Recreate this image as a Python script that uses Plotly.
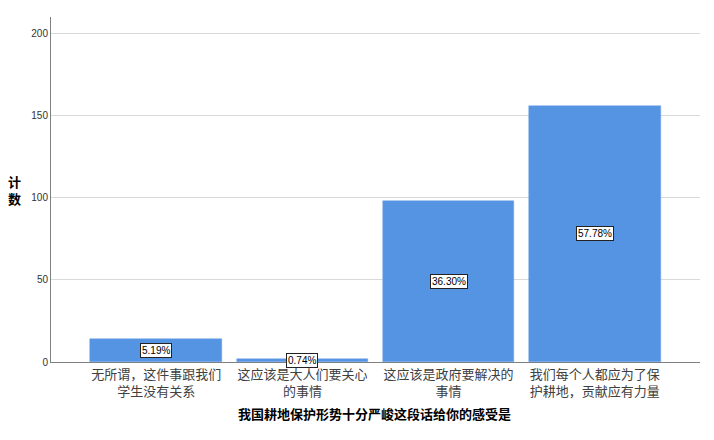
import plotly.graph_objects as go

# categories and counts (n = 270)
categories = ["无所谓，这件事跟我们<br>学生没有关系",
              "这应该是大人们要关心<br>的事情",
              "这应该是政府要解决的<br>事情",
              "我们每个人都应为了保<br>护耕地，贡献应有力量"]
counts = [14, 2, 98, 156]
pct_labels = ["5.19%", "0.74%", "36.30%", "57.78%"]

y_ticks = [0, 50, 100, 150, 200]
x_title = "我国耕地保护形势十分严峻这段话给你的感受是"
y_title = "计<br>数"

xpos = list(range(len(categories)))

fig = go.Figure()
fig.add_trace(go.Bar(
    x=xpos, y=counts, width=0.9,
    marker=dict(color="#5594e3", line=dict(color="#6fa3e8", width=0.5)),
    hoverinfo="skip",
))

# percentage boxes in the middle of each bar
for i, c in enumerate(counts):
    fig.add_annotation(
        x=i, y=c / 2, text=pct_labels[i], showarrow=False,
        font=dict(family="Arial, Liberation Sans", size=10, color="#000000"),
        bgcolor="#ffffff", bordercolor="#222222", borderwidth=1, borderpad=1,
    )

# axis titles
fig.add_annotation(
    x=-0.0555, y=0.50, xref="paper", yref="paper", text="<b>" + y_title + "</b>",
    showarrow=False, xanchor="center", yanchor="middle",
    font=dict(family="Noto Sans CJK SC", size=13, color="#000000"),
)
fig.add_annotation(
    x=0.499, y=-0.148, xref="paper", yref="paper", text="<b>" + x_title + "</b>",
    showarrow=False, xanchor="center", yanchor="middle",
    font=dict(family="Noto Sans CJK SC", size=13, color="#000000"),
)

# page body has an 8px margin, so the figure is sized/offset to fit
fig.update_layout(
    width=698, height=424,
    margin=dict(l=43, r=6, t=9, b=70),
    paper_bgcolor="#ffffff", plot_bgcolor="#ffffff",
    showlegend=False, bargap=0,
    xaxis=dict(
        range=[-0.72, 3.72], tickvals=xpos, ticktext=categories,
        showgrid=False, showline=True, linecolor="#808080", linewidth=1,
        ticks="", zeroline=False, automargin=False,
        tickfont=dict(family="Noto Sans CJK SC", size=13, color="#404040"),
    ),
    yaxis=dict(
        range=[0, 210], tickvals=y_ticks, showgrid=True, gridcolor="#d9d9d9",
        gridwidth=1, showline=True, linecolor="#808080", linewidth=1,
        zeroline=False, ticks="", automargin=False,
        tickfont=dict(family="Arial, Liberation Sans", size=10, color="#333333"),
    ),
)

fig.write_html("out.html")
